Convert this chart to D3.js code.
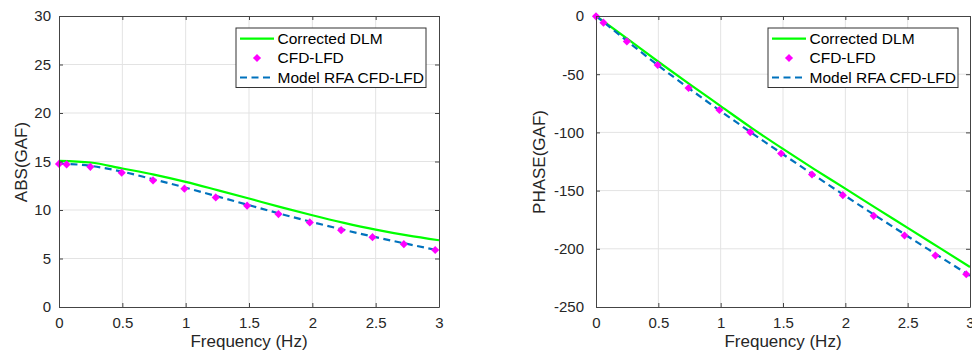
<!DOCTYPE html>
<html>
<head>
<meta charset="utf-8">
<script src="https://cdn.jsdelivr.net/npm/d3@7"></script>
<style>
  body { margin: 0; background: #fff; }
  svg { display: block; font-family: "Liberation Sans", Arial, sans-serif; }
  .grid line { stroke: #e3e3e3; stroke-width: 1; }
</style>
</head>
<body>
<div id="chart"></div>
<script>
// frequencies (Hz)
const lineFreq = [0, 0.25, 0.5, 0.75, 1, 1.25, 1.5, 1.75, 2, 2.25, 2.5, 2.75, 3];
const pointFreq = [0, 0.06, 0.2475, 0.495, 0.7425, 0.99, 1.2375, 1.485, 1.7325, 1.98, 2.2275, 2.475, 2.7225, 2.97];

// ABS(GAF)
const absDLM = [15.07, 14.9, 14.28, 13.65, 12.9, 12.05, 11.18, 10.3, 9.46, 8.68, 7.98, 7.38, 6.88];
const absCFD = [14.75, 14.7, 14.45, 13.85, 13.05, 12.2, 11.3, 10.45, 9.58, 8.72, 7.92, 7.2, 6.48, 5.88];
const absRFA = [14.8, 14.55, 13.95, 13.15, 12.3, 11.4, 10.5, 9.6, 8.75, 7.95, 7.2, 6.5, 5.82];

// PHASE(GAF)
const phaseDLM = [0, -19.5, -39.3, -58.5, -77.4, -96.3, -114.2, -131.5, -148.3, -165.3, -182, -198.8, -215.6];
const phaseCFD = [-0.3, -5.7, -21.8, -42.1, -61.9, -80.8, -99.8, -118.1, -136.2, -153.9, -171.7, -188.6, -205.8, -221.9];
const phaseRFA = [0, -21.5, -42.5, -62.5, -81.8, -100.5, -118.8, -136.8, -154.6, -172, -189.2, -206.2, -223.2];

const xTicks = [0, 0.5, 1, 1.5, 2, 2.5, 3];
const absTicks = [0, 5, 10, 15, 20, 25, 30];
const phaseTicks = [-250, -200, -150, -100, -50, 0];

const legendLabels = ["Corrected DLM", "CFD-LFD", "Model RFA CFD-LFD"];
const colors = {dlm: "#00ff00", cfd: "#ff00ff", rfa: "#0072bd"};

const W = 972, H = 356;
const svg = d3.select("#chart").append("svg").attr("width", W).attr("height", H);

function drawPanel(opt) {
    const x = d3.scaleLinear().domain([0, 3]).range([opt.left, opt.right]);
    const y = d3.scaleLinear().domain(opt.yDomain).range([307, 16]);
    const g = svg.append("g");

    // grid
    const grid = g.append("g").attr("class", "grid");
    grid.selectAll(".vx").data(xTicks.slice(1, -1)).enter().append("line")
        .attr("x1", d => x(d)).attr("x2", d => x(d)).attr("y1", y.range()[0]).attr("y2", y.range()[1]);
    grid.selectAll(".hy").data(opt.yTicks.slice(1, -1)).enter().append("line")
        .attr("y1", d => y(d)).attr("y2", d => y(d)).attr("x1", opt.left).attr("x2", opt.right);

    // lines
    const line = d3.line().x((d, i) => x(lineFreq[i])).y(d => y(d)).curve(d3.curveMonotoneX);
    g.append("path").datum(opt.dlm).attr("d", line)
        .attr("fill", "none").attr("stroke", colors.dlm).attr("stroke-width", 2.2);
    g.append("path").datum(opt.rfa).attr("d", line)
        .attr("fill", "none").attr("stroke", colors.rfa).attr("stroke-width", 2.2)
        .attr("stroke-dasharray", "7,4.5");

    const diamond = d3.symbol().type(d3.symbolDiamond2).size(42);
    g.selectAll(".pt").data(opt.cfd).enter().append("path")
        .attr("transform", (d, i) => `translate(${x(pointFreq[i])},${y(d)})`)
        .attr("d", diamond).attr("fill", colors.cfd);

    // axes (box with inward ticks)
    const axColor = "#444";
    const fmt = d => String(d);   // plain hyphen minus like the original
    const bottom = g.append("g").attr("transform", `translate(0,${y.range()[0]})`)
        .call(d3.axisBottom(x).tickValues(xTicks).tickFormat(fmt).tickSizeInner(-4).tickSizeOuter(0).tickPadding(10));
    const top = g.append("g").attr("transform", `translate(0,${y.range()[1]})`)
        .call(d3.axisTop(x).tickValues(xTicks).tickFormat("").tickSizeInner(-4).tickSizeOuter(0));
    const left = g.append("g").attr("transform", `translate(${opt.left},0)`)
        .call(d3.axisLeft(y).tickValues(opt.yTicks).tickFormat(fmt).tickSizeInner(-4).tickSizeOuter(0).tickPadding(opt.yPad));
    const right = g.append("g").attr("transform", `translate(${opt.right},0)`)
        .call(d3.axisRight(y).tickValues(opt.yTicks).tickFormat("").tickSizeInner(-4).tickSizeOuter(0));
    [bottom, top, left, right].forEach(a => {
        a.select(".domain").attr("stroke", axColor).attr("stroke-width", 1);
        a.selectAll(".tick line").attr("stroke", axColor);
        a.selectAll("text").attr("fill", "#262626").style("font-size", "15px")
            .style("font-family", "'Liberation Sans', Arial, sans-serif");
    });

    // axis labels
    g.append("text").attr("x", (opt.left + opt.right) / 2).attr("y", 347)
        .attr("text-anchor", "middle").attr("fill", "#262626").style("font-size", "17px")
        .text("Frequency (Hz)");
    g.append("text").attr("transform", `translate(${opt.yLabelX},162) rotate(-90)`)
        .attr("text-anchor", "middle").attr("fill", "#262626").style("font-size", "17px")
        .text(opt.yLabel);

    // legend
    const lg = g.append("g").attr("transform", `translate(${opt.legendX},28)`);
    lg.append("rect").attr("width", 190).attr("height", 59.5)
        .attr("fill", "#fff").attr("stroke", "#333").attr("stroke-width", 1);
    const rows = [10.7, 30, 49.5];
    lg.append("line").attr("x1", 4).attr("x2", 38).attr("y1", rows[0]).attr("y2", rows[0])
        .attr("stroke", colors.dlm).attr("stroke-width", 2.2);
    lg.append("path").attr("transform", `translate(21,${rows[1]})`).attr("d", diamond).attr("fill", colors.cfd);
    lg.append("line").attr("x1", 4).attr("x2", 38).attr("y1", rows[2]).attr("y2", rows[2])
        .attr("stroke", colors.rfa).attr("stroke-width", 2.2).attr("stroke-dasharray", "7,4.5");
    lg.selectAll(".lt").data(legendLabels).enter().append("text")
        .attr("x", 41.5).attr("y", (d, i) => rows[i] + 5.3)
        .attr("fill", "#000").style("font-size", "15.5px").text(d => d);
}

drawPanel({
    left: 59, right: 439, yDomain: [0, 30], yTicks: absTicks, yPad: 8,
    dlm: absDLM, cfd: absCFD, rfa: absRFA,
    yLabel: "ABS(GAF)", yLabelX: 26.5, legendX: 236
});

drawPanel({
    left: 596, right: 970, yDomain: [-250, 0], yTicks: phaseTicks, yPad: 12,
    dlm: phaseDLM, cfd: phaseCFD, rfa: phaseRFA,
    yLabel: "PHASE(GAF)", yLabelX: 545, legendX: 768
});
</script>
</body>
</html>
